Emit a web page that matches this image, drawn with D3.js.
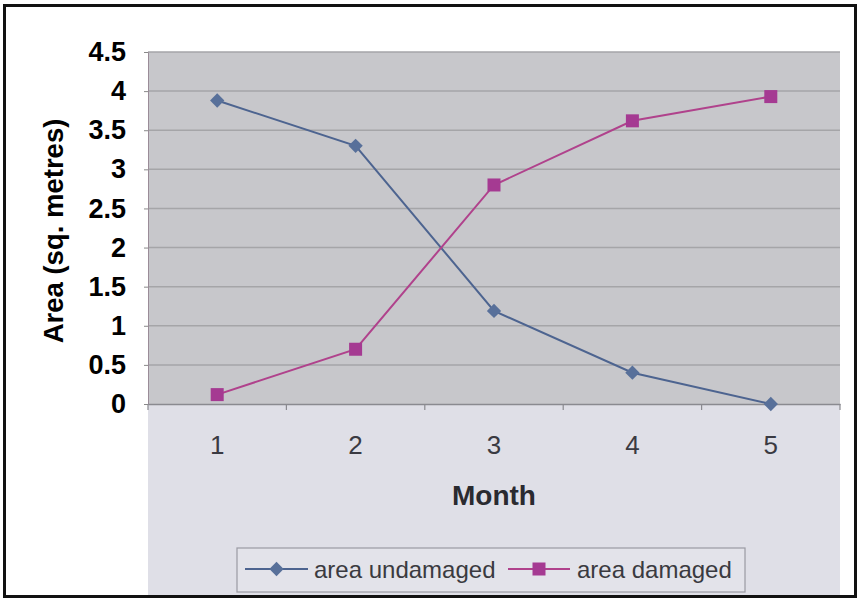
<!DOCTYPE html>
<html><head><meta charset="utf-8">
<script src="https://cdn.jsdelivr.net/npm/d3@7/dist/d3.min.js"></script>
<style>body{margin:0;background:#fff}svg{display:block}</style>
</head><body>
<svg id="c" width="859" height="602"></svg>
<script>
const months = [1, 2, 3, 4, 5];
const undamaged = [3.88, 3.3, 1.19, 0.4, 0.0];
const damaged = [0.12, 0.7, 2.8, 3.62, 3.93];
const yTicks = [0, 0.5, 1, 1.5, 2, 2.5, 3, 3.5, 4, 4.5];
const seriesNames = ["area undamaged", "area damaged"];

const svg = d3.select("#c");
const W = 859, H = 602;
const plot = {l: 148, t: 52, r: 840, b: 404};
const FONT = "Liberation Sans, Arial, sans-serif";

svg.append("rect").attr("width", W).attr("height", H).attr("fill", "#ffffff");
svg.append("rect").attr("x", plot.l).attr("y", plot.b).attr("width", plot.r - plot.l).attr("height", 597 - plot.b).attr("fill", "#dfdfe7");
svg.append("rect").attr("x", 4.5).attr("y", 5.5).attr("width", 851).attr("height", 591)
  .attr("fill", "none").attr("stroke", "#111").attr("stroke-width", 3);

const x = d3.scaleBand().domain(months).range([plot.l, plot.r]);
const y = d3.scaleLinear().domain([0, 4.5]).range([plot.b, plot.t]);

svg.append("rect").attr("x", plot.l).attr("y", plot.t).attr("width", plot.r - plot.l).attr("height", plot.b - plot.t).attr("fill", "#c7c7cb");

svg.append("g").selectAll("line").data(yTicks.filter(d => d > 0)).join("line")
  .attr("x1", plot.l).attr("x2", plot.r).attr("y1", d => y(d)).attr("y2", d => y(d))
  .attr("stroke", "#a5a5a8").attr("stroke-width", 1.5);

const yAxis = svg.append("g").attr("transform", `translate(${plot.l},0)`)
  .call(d3.axisLeft(y).tickValues(yTicks).tickSize(4).tickPadding(18).tickFormat(d3.format("")));
yAxis.select(".domain").attr("stroke", "#9a8c98");
yAxis.selectAll(".tick line").attr("stroke", "#888");
yAxis.selectAll("text").attr("font-family", FONT).attr("font-size", 27)
  .attr("font-weight", "bold").attr("fill", "#000");

const xAxis = svg.append("g").attr("transform", `translate(0,${plot.b})`)
  .call(d3.axisBottom(x).tickSize(0).tickPadding(32));
xAxis.select(".domain").attr("stroke", "#8a8a90").attr("stroke-width", 1.5);
xAxis.selectAll("text").attr("font-family", FONT).attr("font-size", 26)
  .attr("fill", "#3a3a42");
const bounds = months.map(m => x(m)).concat([plot.r]);
svg.append("g").selectAll("line").data(bounds).join("line")
  .attr("x1", d => d).attr("x2", d => d).attr("y1", plot.b).attr("y2", plot.b + 6)
  .attr("stroke", "#8a8a90").attr("stroke-width", 1.2);

const cx = m => x(m) + x.bandwidth() / 2;

svg.append("text").attr("x", 494).attr("y", 505).attr("text-anchor", "middle")
  .attr("font-family", FONT).attr("font-size", 28).attr("font-weight", "bold")
  .attr("fill", "#2a2a30").text("Month");
svg.append("text").attr("transform", "translate(63,231) rotate(-90)").attr("text-anchor", "middle")
  .attr("font-family", FONT).attr("font-size", 27.5).attr("font-weight", "bold")
  .attr("fill", "#000").text("Area (sq. metres)");

const colU = "#4d6490", colD = "#b0428c";
const mU = "#58709a", mD = "#a53a92";
const line = d3.line().x((d, i) => cx(months[i])).y(d => y(d));

svg.append("path").datum(undamaged).attr("d", line).attr("fill", "none").attr("stroke", colU).attr("stroke-width", 2);
svg.append("path").datum(damaged).attr("d", line).attr("fill", "none").attr("stroke", colD).attr("stroke-width", 2);

const diamond = d3.symbol().type(d3.symbolDiamond2).size(130);
svg.append("g").selectAll("path").data(undamaged).join("path")
  .attr("transform", (d, i) => `translate(${cx(months[i])},${y(d)})`)
  .attr("d", diamond).attr("fill", mU);
svg.append("g").selectAll("rect").data(damaged).join("rect")
  .attr("x", (d, i) => cx(months[i]) - 6.5).attr("y", d => y(d) - 6.5).attr("width", 13).attr("height", 13)
  .attr("fill", mD);

const lg = svg.append("g");
lg.append("rect").attr("x", 237).attr("y", 548).attr("width", 508).attr("height", 44)
  .attr("fill", "#e3e3ea").attr("stroke", "#9a9aa2").attr("stroke-width", 1.2);
const items = [
  {name: seriesNames[0], x0: 245, x1: 308, col: colU, mk: "d", mc: mU, tx: 314},
  {name: seriesNames[1], x0: 508, x1: 570, col: colD, mk: "s", mc: mD, tx: 577}
];
items.forEach(it => {
  lg.append("line").attr("x1", it.x0).attr("x2", it.x1).attr("y1", 569).attr("y2", 569).attr("stroke", it.col).attr("stroke-width", 2);
  const mx = (it.x0 + it.x1) / 2;
  if (it.mk === "d") lg.append("path").attr("transform", `translate(${mx},569)`).attr("d", diamond).attr("fill", it.mc);
  else lg.append("rect").attr("x", mx - 6.5).attr("y", 562.5).attr("width", 13).attr("height", 13).attr("fill", it.mc);
  lg.append("text").attr("x", it.tx).attr("y", 578).attr("font-family", FONT)
    .attr("font-size", 24).attr("fill", "#3a3a40").text(it.name);
});
</script>
</body></html>
